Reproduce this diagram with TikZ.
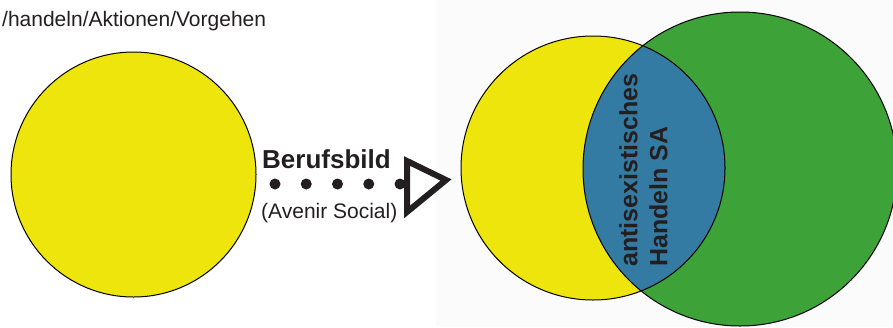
\documentclass[tikz,border=0pt]{standalone}
\usepackage{fontspec}
\setmainfont{Liberation Sans}
\usetikzlibrary{positioning}
\definecolor{venngelb}{RGB}{238,229,12}
\definecolor{venngruen}{RGB}{61,162,56}
\definecolor{vennblau}{RGB}{52,123,163}
\definecolor{schrift}{RGB}{35,31,32}

\begin{document}
\begin{tikzpicture}[x=1pt,y=-1pt,
	kreis/.style={circle,inner sep=0pt,outer sep=0pt},
	rand/.style={draw=black,line width=1pt},
	punkte/.style={draw=schrift,line width=11pt,line cap=round,dash pattern=on 0pt off 31.25pt},
	spitze/.style={draw=schrift,fill=white,line width=6pt,line join=miter},
	txt/.style={text=schrift,inner sep=0pt}]
	
	\useasboundingbox (0,0) rectangle (893,327);
	\fill[black!1.5] (436,0) rectangle (893,327);
	
	%Kreise
	\node (links) [kreis, rand, fill=venngelb, minimum size=245pt] at (133.5,174.5) {};
	\node (gelb) [kreis, fill=venngelb, minimum size=264pt] at (593,168) {};
	\node (gruen) [kreis, fill=venngruen, minimum size=314pt] at (740,169) {};
	\begin{scope}
		\clip (gelb.center) circle[radius=132];
		\fill[vennblau] (gruen.center) circle[radius=157];
	\end{scope}
	\draw[rand] (gelb.center) circle[radius=132] (gruen.center) circle[radius=157];
	
	%Texte
	\node (titel) [txt, anchor=base west, font=\fontsize{21}{25}\selectfont] at (2,26) {/handeln/Aktionen/Vorgehen};
	\node (beruf) [txt, anchor=base west, font=\bfseries\fontsize{26}{30}\selectfont] at (262,168) {Berufsbild};
	\node (avenir) [txt, anchor=base west, font=\fontsize{21}{25}\selectfont] at (261,218) {(Avenir Social)};
	\node (schnitt) [txt, rotate=90, anchor=north west, align=left, font=\bfseries\fontsize{25}{30}\selectfont] at (619,267) {antisexistisches\\Handeln SA};
	
	%Pfeil
	\coordinate (p1) at (275,184);
	\coordinate (p2) at (400,184);
	\draw[punkte] (p1) -- (p2);
	\draw[spitze] (407,161) -- (446,180) -- (407,212) -- cycle;
	
\end{tikzpicture}
\end{document}
